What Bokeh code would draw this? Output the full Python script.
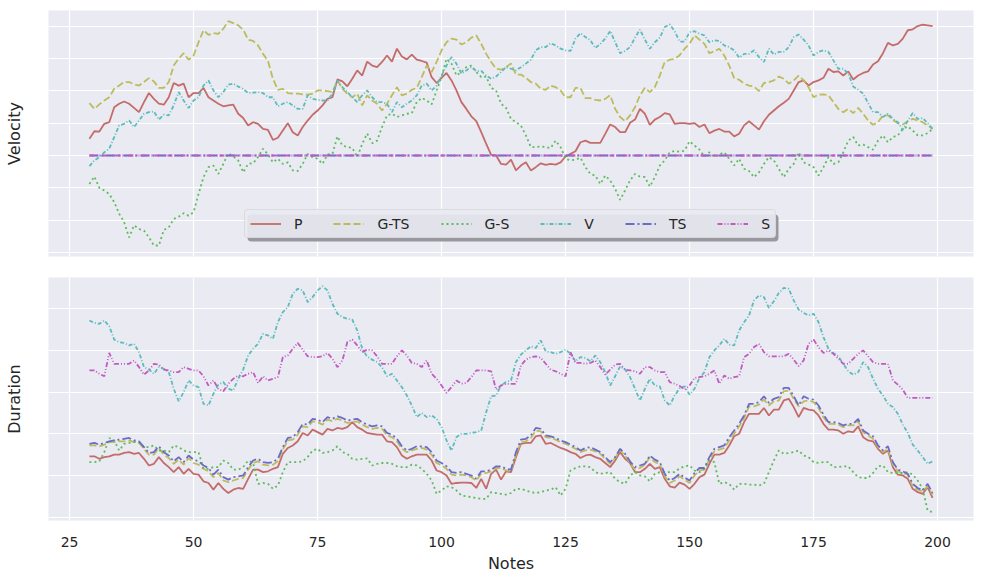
from bokeh.plotting import figure
from bokeh.layouts import column
from bokeh.models import FixedTicker, Legend, LegendItem, Range1d, Grid, BoxAnnotation
from bokeh.embed import file_html
from bokeh.resources import INLINE

notes = list(range(29, 200))
x_ticks = [25, 50, 75, 100, 125, 150, 175, 200]
series_names = ["P", "G-TS", "G-S", "V", "TS", "S"]

# ---------------- Velocity (top) ----------------
vel_p = [0.52, 0.75, 0.74, 0.98, 1.03, 1.49, 1.60, 1.67, 1.60, 1.47,
         1.34, 1.65, 1.93, 1.75, 1.60, 1.57, 1.80, 2.24, 2.16, 2.22,
         1.80, 1.93, 1.93, 2.09, 1.80, 1.70, 1.60, 1.52, 1.55, 1.57,
         1.29, 1.16, 0.93, 1.03, 0.98, 0.82, 0.79, 0.48, 0.55, 0.77,
         1.00, 0.72, 0.62, 0.88, 1.08, 1.26, 1.39, 1.55, 1.75, 1.80,
         2.35, 2.29, 2.14, 2.37, 2.63, 2.47, 2.90, 2.78, 2.73, 2.89,
         3.09, 2.90, 3.30, 3.06, 2.97, 3.12, 2.96, 2.92, 2.87, 2.42,
         2.24, 2.40, 2.55, 2.32, 2.01, 1.65, 1.44, 1.21, 1.06, 0.72,
         0.36, 0.02, 0.00, -0.26, -0.28, -0.13, -0.46, -0.31, -0.21, -0.46,
         -0.36, -0.24, -0.29, -0.26, -0.28, -0.21, -0.03, 0.05, 0.13, 0.41,
         0.46, 0.39, 0.39, 0.39, 0.67, 0.96, 0.88, 0.72, 0.72, 1.01,
         1.11, 1.44, 1.29, 0.95, 1.11, 1.19, 1.31, 1.27, 0.98, 1.00,
         1.00, 0.98, 1.00, 0.88, 0.96, 0.69, 0.77, 0.82, 0.74, 0.74,
         0.59, 0.67, 0.93, 1.06, 0.93, 0.80, 1.06, 1.26, 1.39, 1.52,
         1.63, 1.75, 2.01, 2.27, 2.32, 2.16, 2.27, 2.32, 2.40, 2.68,
         2.58, 2.60, 2.47, 2.60, 2.35, 2.47, 2.55, 2.60, 2.81, 2.91,
         3.16, 3.48, 3.40, 3.45, 3.61, 3.87, 3.90, 4.00, 4.04, 4.02,
         4.00]
vel_gts = [1.62, 1.44, 1.58, 1.70, 1.80, 2.06, 2.16, 2.27, 2.27, 2.20,
           2.16, 2.27, 2.39, 2.29, 2.09, 2.09, 2.27, 2.78, 2.99, 3.16,
           2.96, 3.09, 3.50, 3.87, 3.73, 3.78, 3.76, 3.92, 4.15, 4.09,
           4.02, 3.89, 3.58, 3.54, 3.40, 3.14, 2.92, 2.37, 2.03, 2.06,
           1.93, 1.91, 1.91, 1.89, 1.88, 1.91, 2.01, 2.01, 1.99, 1.96,
           2.32, 2.06, 1.91, 1.80, 1.91, 1.55, 1.86, 1.70, 1.60, 1.39,
           1.60, 1.86, 2.11, 1.86, 1.91, 2.03, 2.09, 2.42, 2.78, 2.58,
           2.89, 3.25, 3.50, 3.61, 3.58, 3.43, 3.50, 3.64, 3.71, 3.45,
           3.14, 2.89, 2.68, 2.65, 2.73, 2.84, 2.50, 2.50, 2.40, 2.27,
           2.22, 2.06, 2.03, 2.16, 2.11, 2.01, 1.80, 1.80, 2.09, 2.09,
           1.77, 1.77, 1.72, 1.70, 1.75, 1.86, 1.44, 1.19, 1.06, 1.24,
           1.49, 1.86, 2.09, 1.96, 2.11, 2.47, 2.89, 2.96, 2.98, 3.10,
           3.30, 3.45, 3.71, 3.58, 3.45, 3.16, 3.22, 3.30, 3.09, 2.78,
           2.39, 2.34, 2.22, 2.16, 2.13, 1.99, 2.24, 2.27, 2.32, 2.44,
           2.37, 2.22, 2.32, 2.47, 2.32, 2.11, 1.80, 1.88, 1.89, 1.86,
           1.65, 1.44, 1.34, 1.44, 1.31, 1.47, 1.29, 1.08, 0.95, 1.03,
           1.24, 1.24, 1.10, 1.00, 0.96, 1.06, 1.13, 1.08, 1.03, 0.93,
           0.82]
vel_gs = [-0.88, -0.65, -1.00, -1.08, -1.19, -1.44, -1.80, -2.06, -2.53, -2.16,
          -2.27, -2.32, -2.53, -2.78, -2.78, -2.30, -2.22, -1.96, -1.89, -1.78,
          -1.86, -1.75, -1.19, -0.67, -0.36, -0.31, -0.57, -0.26, 0.07, -0.03,
          -0.15, -0.52, -0.26, -0.24, -0.05, 0.21, 0.03, -0.21, -0.10, -0.26,
          -0.21, -0.46, -0.48, -0.26, 0.05, -0.05, -0.10, -0.26, 0.03, 0.05,
          0.59, 0.31, 0.26, 0.24, -0.05, 0.36, 0.68, 0.38, 0.46, 0.88,
          1.24, 1.29, 1.19, 1.24, 1.29, 1.31, 1.65, 1.78, 1.70, 1.58,
          2.01, 2.42, 2.99, 2.84, 2.47, 2.58, 2.73, 2.78, 2.58, 2.42,
          2.44, 2.09, 2.01, 1.60, 1.47, 1.13, 1.03, 0.93, 0.62, 0.26,
          0.26, 0.28, 0.26, 0.23, 0.46, 0.26, -0.10, -0.15, -0.13, -0.07,
          -0.36, -0.57, -0.62, -0.88, -0.62, -0.77, -1.03, -1.37, -1.08, -0.77,
          -0.57, -0.65, -0.67, -0.96, -0.67, -0.31, -0.15, 0.10, 0.14, 0.12,
          0.15, 0.44, 0.31, 0.18, -0.03, 0.10, -0.05, 0.03, 0.10, -0.10,
          -0.31, -0.10, -0.41, -0.48, -0.67, -0.52, -0.26, -0.05, -0.15, -0.41,
          -0.67, -0.41, -0.26, 0.10, -0.21, -0.28, -0.36, -0.62, -0.36, -0.05,
          -0.26, -0.21, 0.10, 0.46, 0.57, 0.31, 0.34, 0.26, 0.18, 0.46,
          0.62, 0.41, 0.57, 0.62, 0.82, 0.90, 0.77, 0.62, 0.62, 0.69,
          0.82]
vel_v = [-0.33, -0.15, -0.05, 0.10, 0.21, 0.57, 0.93, 0.98, 1.08, 0.88,
         1.08, 1.29, 1.34, 1.36, 1.11, 1.26, 1.24, 1.55, 1.96, 1.70,
         1.47, 1.70, 1.80, 2.16, 2.32, 2.01, 1.80, 1.96, 2.19, 2.22,
         2.13, 2.06, 1.93, 1.94, 1.96, 1.93, 1.80, 1.80, 1.52, 1.60,
         1.65, 1.55, 1.44, 1.44, 1.86, 1.75, 1.72, 1.70, 1.70, 1.91,
         2.32, 2.11, 1.96, 1.80, 1.65, 1.86, 2.01, 1.80, 1.65, 1.65,
         1.60, 1.34, 1.65, 1.49, 1.60, 1.70, 1.86, 2.16, 2.22, 2.01,
         2.16, 2.47, 2.78, 3.04, 2.84, 2.53, 2.63, 2.73, 2.61, 2.61,
         2.47, 2.37, 2.44, 2.58, 2.73, 2.68, 2.63, 2.73, 2.84, 2.96,
         3.25, 3.35, 3.35, 3.47, 3.40, 3.30, 3.25, 3.23, 3.61, 3.78,
         3.66, 3.56, 3.32, 3.45, 3.61, 3.85, 3.50, 3.16, 3.23, 3.35,
         3.64, 3.89, 3.58, 3.30, 3.50, 3.64, 3.97, 4.05, 3.84, 3.52,
         3.52, 3.81, 3.84, 3.76, 3.71, 3.50, 3.56, 3.54, 3.40, 3.35,
         3.25, 3.02, 3.14, 3.14, 3.25, 3.04, 2.89, 3.30, 3.12, 3.20,
         3.20, 3.35, 3.66, 3.74, 3.58, 3.40, 3.09, 3.20, 3.25, 3.20,
         2.94, 2.68, 2.68, 2.53, 2.13, 2.03, 1.91, 1.62, 1.34, 1.34,
         1.19, 1.29, 1.13, 1.03, 0.79, 1.08, 1.31, 1.13, 1.16, 1.00,
         0.82]
# TS and S velocity stay flat at the zero line for every note
vel_ts = [0.0] * len(notes)
vel_s = [0.0] * len(notes)

# ---------------- Duration (bottom) ----------------
dur_p = [1.46, 1.46, 1.40, 1.44, 1.46, 1.50, 1.50, 1.54, 1.56, 1.52,
         1.54, 1.40, 1.24, 1.28, 1.44, 1.30, 1.20, 1.08, 1.20, 1.04,
         1.16, 1.04, 1.02, 0.86, 0.82, 0.66, 0.82, 0.68, 0.58, 0.66,
         0.70, 0.68, 0.92, 1.14, 1.14, 1.08, 1.10, 1.16, 1.20, 1.52,
         1.66, 1.72, 1.82, 2.02, 1.96, 2.10, 2.04, 1.98, 2.12, 2.08,
         2.14, 2.12, 2.16, 2.28, 2.16, 2.10, 2.02, 2.00, 1.98, 1.98,
         1.82, 1.80, 1.68, 1.48, 1.40, 1.46, 1.50, 1.50, 1.50, 1.36,
         1.12, 1.08, 1.00, 0.80, 0.82, 0.83, 0.83, 0.82, 0.70, 0.92,
         0.68, 1.04, 1.14, 0.90, 1.10, 1.08, 1.44, 1.76, 1.78, 1.78,
         1.94, 1.96, 1.76, 1.78, 1.72, 1.66, 1.62, 1.56, 1.52, 1.42,
         1.48, 1.50, 1.44, 1.40, 1.30, 1.20, 1.36, 1.56, 1.40, 1.30,
         1.08, 1.08, 1.16, 1.28, 1.16, 1.20, 0.92, 0.74, 0.71, 0.83,
         0.78, 0.68, 0.80, 0.96, 1.02, 1.28, 1.50, 1.50, 1.54, 1.72,
         1.94, 2.00, 2.28, 2.48, 2.48, 2.48, 2.62, 2.44, 2.58, 2.58,
         2.80, 2.84, 2.64, 2.40, 2.62, 2.58, 2.56, 2.44, 2.24, 2.10,
         2.10, 2.08, 2.00, 2.06, 2.04, 2.18, 1.92, 1.84, 1.82, 1.64,
         1.52, 1.60, 1.20, 1.02, 1.00, 0.92, 0.68, 0.60, 0.56, 0.72,
         0.46]
dur_gts = [1.72, 1.72, 1.70, 1.74, 1.80, 1.80, 1.82, 1.82, 1.84, 1.80,
           1.78, 1.64, 1.50, 1.50, 1.66, 1.50, 1.42, 1.28, 1.38, 1.26,
           1.42, 1.30, 1.26, 1.16, 1.10, 0.96, 1.06, 0.88, 0.84, 0.88,
           0.92, 0.94, 1.14, 1.30, 1.34, 1.26, 1.24, 1.26, 1.34, 1.62,
           1.84, 1.86, 1.98, 2.18, 2.16, 2.30, 2.28, 2.22, 2.34, 2.30,
           2.36, 2.32, 2.26, 2.28, 2.30, 2.22, 2.16, 2.12, 2.14, 2.12,
           1.96, 1.92, 1.82, 1.64, 1.56, 1.60, 1.64, 1.66, 1.62, 1.50,
           1.30, 1.24, 1.16, 1.02, 1.00, 1.02, 1.00, 0.96, 0.88, 1.04,
           1.06, 1.10, 1.18, 1.18, 1.12, 1.10, 1.50, 1.80, 1.82, 1.90,
           2.08, 2.06, 1.92, 1.90, 1.86, 1.80, 1.76, 1.70, 1.64, 1.56,
           1.60, 1.62, 1.58, 1.52, 1.40, 1.28, 1.42, 1.60, 1.48, 1.30,
           1.14, 1.18, 1.26, 1.44, 1.32, 1.28, 0.98, 0.82, 0.88, 0.98,
           0.90, 0.82, 1.00, 1.12, 1.14, 1.38, 1.58, 1.62, 1.66, 1.84,
           2.00, 2.18, 2.38, 2.66, 2.66, 2.70, 2.82, 2.68, 2.78, 2.80,
           3.02, 3.04, 2.84, 2.66, 2.78, 2.80, 2.76, 2.62, 2.40, 2.24,
           2.24, 2.22, 2.16, 2.20, 2.20, 2.30, 2.04, 1.96, 1.88, 1.68,
           1.56, 1.64, 1.26, 1.10, 1.06, 1.02, 0.74, 0.66, 0.62, 0.74,
           0.54]
dur_gs = [1.32, 1.32, 1.34, 1.56, 1.90, 1.84, 1.60, 1.76, 1.78, 1.80,
          1.80, 1.68, 1.68, 1.72, 1.60, 1.60, 1.56, 1.72, 1.68, 1.60,
          1.56, 1.56, 1.56, 1.16, 1.16, 1.20, 1.20, 1.36, 1.30, 1.14,
          1.14, 1.20, 1.36, 1.30, 0.80, 0.82, 0.80, 0.68, 0.76, 1.08,
          1.32, 1.32, 1.32, 1.34, 1.44, 1.60, 1.64, 1.54, 1.56, 1.60,
          1.70, 1.56, 1.52, 1.40, 1.38, 1.40, 1.41, 1.24, 1.28, 1.30,
          1.30, 1.28, 1.22, 1.20, 1.20, 1.26, 1.24, 1.16, 1.04, 0.88,
          0.56, 0.64, 0.74, 0.72, 0.64, 0.52, 0.50, 0.48, 0.46, 0.44,
          0.44, 0.60, 0.58, 0.56, 0.54, 0.58, 0.68, 0.68, 0.64, 0.60,
          0.58, 0.60, 0.64, 0.66, 0.72, 0.52, 0.68, 1.12, 1.18, 1.22,
          1.22, 1.20, 1.08, 1.04, 1.06, 1.08, 0.92, 0.84, 0.80, 1.00,
          1.08, 1.00, 0.98, 0.86, 1.04, 1.08, 1.08, 1.08, 1.08, 1.17,
          1.22, 1.24, 1.12, 1.08, 1.16, 1.36, 1.32, 0.80, 0.84, 0.80,
          0.66, 0.80, 0.80, 0.78, 0.78, 0.76, 0.80, 1.08, 1.36, 1.60,
          1.52, 1.54, 1.56, 1.60, 1.48, 1.44, 1.32, 1.30, 1.32, 1.32,
          1.20, 1.20, 1.22, 1.22, 1.08, 0.96, 0.94, 0.94, 1.06, 1.22,
          1.24, 1.08, 1.06, 1.06, 1.06, 1.08, 1.02, 0.88, 0.68, 0.16,
          0.12]
dur_v = [4.72, 4.66, 4.64, 4.72, 4.58, 4.26, 4.20, 4.18, 4.12, 4.16,
         3.96, 3.60, 3.54, 3.44, 3.60, 3.56, 3.48, 3.08, 2.78, 3.00,
         3.28, 3.16, 3.12, 2.72, 2.68, 2.96, 3.18, 3.24, 3.08, 3.04,
         3.32, 3.54, 3.88, 4.04, 4.16, 4.40, 4.36, 4.28, 4.68, 4.92,
         5.04, 5.36, 5.48, 5.44, 5.16, 5.28, 5.44, 5.54, 5.44, 5.12,
         4.88, 4.80, 4.76, 4.74, 4.48, 4.04, 3.85, 3.78, 3.72, 3.60,
         3.38, 3.44, 3.28, 3.12, 2.92, 2.68, 2.40, 2.50, 2.40, 2.44,
         2.36, 2.16, 1.84, 1.60, 1.92, 2.00, 2.00, 2.02, 2.04, 2.08,
         2.52, 2.90, 2.92, 3.16, 3.24, 3.28, 3.72, 3.90, 4.00, 4.10,
         4.06, 4.24, 3.98, 3.96, 3.92, 3.96, 4.02, 3.92, 3.74, 3.84,
         3.82, 3.74, 3.88, 3.72, 3.48, 3.16, 3.38, 3.62, 3.54, 3.36,
         3.08, 2.80, 3.08, 3.32, 3.16, 3.14, 2.80, 2.68, 2.92, 3.09,
         3.14, 2.94, 3.08, 3.34, 3.48, 3.84, 4.00, 4.12, 4.28, 4.14,
         4.12, 4.48, 4.68, 4.84, 5.20, 5.32, 5.28, 5.02, 5.18, 5.38,
         5.50, 5.48, 5.20, 4.98, 4.90, 4.84, 4.88, 4.68, 4.32, 4.04,
         3.94, 3.86, 3.68, 3.50, 3.42, 3.48, 3.72, 3.60, 3.32, 3.08,
         2.92, 2.72, 2.64, 2.48, 2.22, 2.02, 1.74, 1.60, 1.44, 1.28,
         1.34]
dur_ts = [1.76, 1.78, 1.74, 1.78, 1.82, 1.84, 1.86, 1.88, 1.90, 1.84,
          1.82, 1.68, 1.54, 1.56, 1.70, 1.56, 1.48, 1.34, 1.44, 1.32,
          1.48, 1.38, 1.34, 1.24, 1.18, 1.02, 1.14, 0.96, 0.90, 0.96,
          0.98, 1.00, 1.20, 1.36, 1.40, 1.32, 1.30, 1.32, 1.40, 1.68,
          1.90, 1.92, 2.04, 2.24, 2.22, 2.36, 2.34, 2.28, 2.40, 2.36,
          2.42, 2.38, 2.32, 2.34, 2.36, 2.28, 2.22, 2.18, 2.20, 2.18,
          2.02, 1.98, 1.88, 1.70, 1.60, 1.64, 1.70, 1.70, 1.68, 1.56,
          1.36, 1.30, 1.22, 1.08, 1.06, 1.08, 1.04, 1.00, 0.92, 1.10,
          1.10, 1.14, 1.22, 1.22, 1.16, 1.14, 1.56, 1.86, 1.88, 1.96,
          2.14, 2.12, 1.96, 1.94, 1.90, 1.84, 1.80, 1.74, 1.68, 1.60,
          1.66, 1.68, 1.62, 1.56, 1.44, 1.32, 1.44, 1.64, 1.52, 1.34,
          1.20, 1.24, 1.28, 1.48, 1.38, 1.32, 1.04, 0.88, 0.94, 1.04,
          0.95, 0.88, 1.06, 1.18, 1.18, 1.44, 1.64, 1.68, 1.72, 1.92,
          2.08, 2.24, 2.44, 2.72, 2.72, 2.76, 2.90, 2.74, 2.84, 2.88,
          3.10, 3.10, 2.90, 2.68, 2.90, 2.84, 2.82, 2.68, 2.46, 2.28,
          2.28, 2.26, 2.20, 2.24, 2.24, 2.36, 2.08, 2.00, 1.94, 1.72,
          1.60, 1.70, 1.32, 1.14, 1.10, 1.04, 0.80, 0.70, 0.64, 0.80,
          0.58]
dur_s = [3.52, 3.52, 3.44, 3.38, 3.94, 3.68, 3.68, 3.68, 3.68, 3.76,
         3.60, 3.42, 3.52, 3.68, 3.66, 3.54, 3.52, 3.48, 3.48, 3.60,
         3.56, 3.52, 3.52, 3.38, 3.16, 3.28, 3.08, 3.02, 3.20, 3.32,
         3.40, 3.38, 3.44, 3.48, 3.22, 3.38, 3.28, 3.32, 3.36, 3.84,
         3.88, 4.04, 4.18, 4.02, 3.86, 3.84, 3.84, 3.86, 3.94, 3.80,
         3.60, 3.76, 4.20, 4.26, 4.12, 3.96, 4.02, 4.00, 3.86, 3.68,
         3.68, 3.68, 3.86, 4.00, 3.88, 3.70, 3.68, 3.60, 3.76, 3.44,
         3.32, 3.16, 2.98, 3.12, 3.28, 3.20, 3.22, 3.36, 3.52, 3.52,
         3.52, 3.50, 3.06, 3.16, 3.20, 3.20, 3.20, 3.64, 3.78, 3.84,
         3.86, 3.82, 3.68, 3.54, 3.50, 3.44, 3.38, 3.96, 3.70, 3.70,
         3.68, 3.70, 3.76, 3.60, 3.42, 3.54, 3.66, 3.68, 3.54, 3.52,
         3.50, 3.44, 3.60, 3.60, 3.52, 3.48, 3.48, 3.24, 3.20, 3.15,
         3.06, 3.16, 3.34, 3.36, 3.38, 3.44, 3.52, 3.20, 3.40, 3.32,
         3.36, 3.38, 3.84, 3.92, 4.08, 4.16, 3.96, 3.86, 3.86, 3.86,
         3.86, 3.92, 3.78, 3.62, 3.76, 4.16, 4.26, 4.08, 3.94, 4.00,
         3.92, 3.80, 3.68, 3.68, 3.80, 3.92, 4.00, 3.86, 3.72, 3.68,
         3.68, 3.68, 3.28, 3.18, 3.06, 2.86, 2.86, 2.86, 2.86, 2.86,
         2.86]

# ---------------- styling ----------------
COLORS = ["#c46c6a", "#bcbc5c", "#5cbc5c", "#5cbcbc", "#6c6cc8", "#c05cc0"]
DASHES = ["solid", "7 3", "2 3", "4 2 1 2", "9 3 2 3", "5 2 1 2 1 2"]
BG = "#eaeaf2"
FONT = "DejaVu Sans"
TXT = "#262626"
LW = 1.8
FRAME_W = 925
LEFT = 48


def make_fig(y0, y1, frame_h, top, bottom, ylabel, yticks, with_x):
    p = figure(frame_width=FRAME_W, frame_height=frame_h,
               x_range=Range1d(20.75, 207.25), y_range=Range1d(y0, y1),
               output_backend="svg", toolbar_location=None,
               x_axis_location="below" if with_x else None,
               min_border_left=LEFT, min_border_right=7,
               min_border_top=top, min_border_bottom=bottom,
               background_fill_color=BG, border_fill_color="white",
               outline_line_color=None)
    for g in p.grid:
        g.visible = False
    p.add_layout(Grid(dimension=0, ticker=FixedTicker(ticks=x_ticks),
                      grid_line_color="white", grid_line_width=1.2))
    p.add_layout(Grid(dimension=1, ticker=FixedTicker(ticks=yticks),
                      grid_line_color="white", grid_line_width=1.2))
    ya = p.yaxis[0]
    ya.ticker = FixedTicker(ticks=[])
    ya.axis_label = ylabel
    ya.axis_line_color = None
    ya.major_tick_line_color = None
    ya.minor_tick_line_color = None
    ya.major_label_standoff = 0
    ya.major_tick_out = 0
    ya.axis_label_standoff = 25
    ya.axis_label_text_font = FONT
    ya.axis_label_text_font_size = "16px"
    ya.axis_label_text_font_style = "normal"
    ya.axis_label_text_color = TXT
    if with_x:
        xa = p.xaxis[0]
        xa.ticker = FixedTicker(ticks=x_ticks)
        xa.axis_label = "Notes"
        xa.axis_line_color = None
        xa.major_tick_line_color = None
        xa.minor_tick_line_color = None
        xa.major_tick_out = 0
        xa.major_label_standoff = 16
        xa.major_label_text_font = FONT
        xa.major_label_text_font_size = "14px"
        xa.major_label_text_color = TXT
        xa.axis_label_standoff = 4
        xa.axis_label_text_font = FONT
        xa.axis_label_text_font_size = "16px"
        xa.axis_label_text_font_style = "normal"
        xa.axis_label_text_color = TXT
    return p


TOP_FRAME_H = 246
p1 = make_fig(-3.12, 4.48, TOP_FRAME_H, 10, 10, "Velocity", [-3, -2, -1, 0, 1, 2, 3, 4], False)
p2 = make_fig(-0.08, 5.75, 243, 11, 56, "Duration", [0, 1, 2, 3, 4, 5], True)

top_series = [vel_p, vel_gts, vel_gs, vel_v, vel_ts, vel_s]
bot_series = [dur_p, dur_gts, dur_gs, dur_v, dur_ts, dur_s]

renderers = []
for ys, c, d in zip(top_series, COLORS, DASHES):
    renderers.append(p1.line(notes, ys, line_color=c, line_width=LW, line_dash=d))
for ys, c, d in zip(bot_series, COLORS, DASHES):
    p2.line(notes, ys, line_color=c, line_width=LW, line_dash=d)

# legend geometry (screen pixels, relative to the frame's bottom-left corner)
LEG_X, LEG_Y = 196, 18
LEG_W, LEG_H = 531, 27
shadow = BoxAnnotation(left=LEG_X + 3, right=LEG_X + LEG_W + 3,
                       bottom=LEG_Y - 3, top=LEG_Y + LEG_H - 3,
                       left_units="screen", right_units="screen",
                       top_units="screen", bottom_units="screen",
                       fill_color="#98989e", fill_alpha=1.0, line_color=None)
try:
    shadow.border_radius = 4
except Exception:
    pass
p1.add_layout(shadow)

legend = Legend(items=[LegendItem(label=n, renderers=[r]) for n, r in zip(series_names, renderers)],
                location=(LEG_X, LEG_Y))
legend.orientation = "horizontal"
legend.glyph_width = 31
legend.glyph_height = 17
legend.label_height = 17
legend.label_width = 0
legend.label_standoff = 13
legend.spacing = 31
legend.padding = 5
legend.margin = 0
legend.label_text_font = FONT
legend.label_text_font_size = "14px"
legend.label_text_color = TXT
legend.background_fill_color = BG
legend.background_fill_alpha = 0.9
legend.border_line_color = "#cccccc"
legend.border_line_width = 1
try:
    legend.border_radius = 4
except Exception:
    pass
p1.add_layout(legend, "center")

layout = column(p1, p2)
open("out.html", "w").write(file_html(layout, INLINE))
